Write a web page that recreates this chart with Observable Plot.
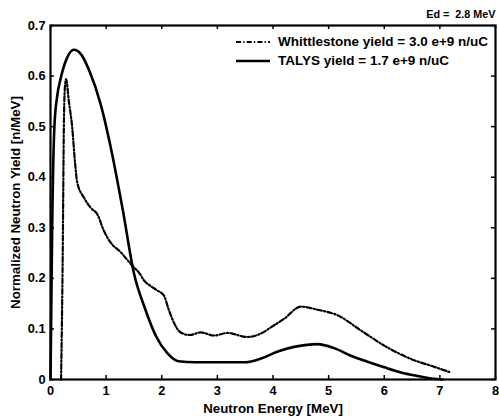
<!DOCTYPE html>
<html>
<head>
<meta charset="utf-8">
<script src="https://cdn.jsdelivr.net/npm/d3@7"></script>
<script src="https://cdn.jsdelivr.net/npm/@observablehq/plot@0.6"></script>
<style>
  html, body { margin: 0; padding: 0; background: #fff; }
  #wrap { position: relative; width: 499px; height: 419px; font-family: "Liberation Sans", Arial, sans-serif; font-weight: bold; }
  #legend { position: absolute; left: 236px; top: 32px; font-size: 13.5px; font-weight: bold; line-height: 19px; color: #000; }
  #legend .row { display: flex; align-items: center; white-space: pre; height: 19px; }
  #legend svg { margin-right: 8px; }
</style>
</head>
<body>
<div id="wrap"></div>
<script>
// TALYS spectrum
const talysE = [0, 0.03, 0.07, 0.12, 0.18, 0.29, 0.42, 0.55, 0.7, 0.9, 1.1, 1.3, 1.5, 1.7, 1.9, 2.1, 2.3, 2.6, 3.0, 3.5, 3.8, 4.1, 4.4, 4.8, 5.1, 5.4, 5.7, 6.0, 6.3, 6.6, 6.85, 7.05];
const talysY = [0, 0.3, 0.5, 0.56, 0.594, 0.634, 0.652, 0.643, 0.61, 0.545, 0.45, 0.335, 0.21, 0.14, 0.085, 0.052, 0.036, 0.034, 0.034, 0.034, 0.042, 0.056, 0.065, 0.07, 0.062, 0.047, 0.035, 0.024, 0.014, 0.007, 0.002, 0];
// Whittlestone spectrum
const whitE = [0.19, 0.22, 0.24, 0.26, 0.28, 0.33, 0.39, 0.44, 0.48, 0.6, 0.72, 0.84, 0.96, 1.08, 1.26, 1.47, 1.6, 1.68, 1.8, 1.92, 2.04, 2.12, 2.2, 2.34, 2.5, 2.7, 2.94, 3.18, 3.54, 3.8, 3.96, 4.2, 4.5, 4.8, 5.16, 5.58, 6.0, 6.47, 6.9, 7.19];
const whitY = [0, 0.25, 0.5, 0.58, 0.594, 0.55, 0.499, 0.43, 0.39, 0.36, 0.34, 0.327, 0.294, 0.271, 0.252, 0.225, 0.21, 0.196, 0.185, 0.176, 0.166, 0.14, 0.117, 0.093, 0.088, 0.093, 0.087, 0.092, 0.084, 0.092, 0.103, 0.12, 0.144, 0.138, 0.127, 0.097, 0.067, 0.041, 0.025, 0.014];

const xTicks = [0, 1, 2, 3, 4, 5, 6, 7, 8];
const yTicks = [0, 0.1, 0.2, 0.3, 0.4, 0.5, 0.6, 0.7];
const seriesNames = ["Whittlestone yield = 3.0 e+9 n/uC", "TALYS yield = 1.7 e+9 n/uC"];
const titleText = "Ed =\u00a0 2.8 MeV";
const xLabel = "Neutron Energy [MeV]";
const yLabel = "Normalized Neutron Yield [n/MeV]";

const talys = talysE.map((e, i) => ({e, y: talysY[i]}));
const whit = whitE.map((e, i) => ({e, y: whitY[i]}));
const dashPattern = "5,2.2,1.3,2.2";

const W = 499, H = 419, mL = 50, mR = 4, mT = 25, mB = 40;
const plotW = W - mL - mR, plotH = H - mT - mB, tk = 4;

const chart = Plot.plot({
  width: W,
  height: H,
  marginLeft: mL,
  marginRight: mR,
  marginTop: mT,
  marginBottom: mB,
  style: {fontFamily: "Liberation Sans, Arial, sans-serif", fontWeight: "bold", fontSize: "12.8px", background: "#fff", color: "#000", overflow: "visible"},
  x: {domain: [0, 8], ticks: xTicks, tickSize: 0, tickPadding: 6, tickFormat: d => String(d), label: null},
  y: {domain: [0, 0.7], ticks: yTicks, tickSize: 0, tickPadding: 5, tickFormat: d => String(d), label: null},
  marks: [
    Plot.line(whit, {x: "e", y: "y", curve: "monotone-x", stroke: "#000", strokeWidth: 2.2, strokeDasharray: dashPattern}),
    Plot.line(talys, {x: "e", y: "y", curve: "monotone-x", stroke: "#000", strokeWidth: 2.6}),
    Plot.tickX(xTicks, {x: d => d, insetTop: plotH - tk, stroke: "#000", strokeWidth: 1.5}),
    Plot.tickX(xTicks, {x: d => d, insetBottom: plotH - tk, stroke: "#000", strokeWidth: 1.5}),
    Plot.tickY(yTicks, {y: d => d, insetRight: plotW - tk, stroke: "#000", strokeWidth: 1.5}),
    Plot.tickY(yTicks, {y: d => d, insetLeft: plotW - tk, stroke: "#000", strokeWidth: 1.5}),
    Plot.frame({stroke: "#000", strokeWidth: 2.2}),
    Plot.text([xLabel], {frameAnchor: "bottom", dy: 29, lineAnchor: "middle", fontSize: 13.3, fill: "#000"}),
    Plot.text([yLabel], {frameAnchor: "left", dx: -35, rotate: -90, textAnchor: "middle", lineAnchor: "middle", fontSize: 13.3, fill: "#000"}),
    Plot.text([titleText], {frameAnchor: "top-right", dy: -11, dx: 0, textAnchor: "end", lineAnchor: "middle", fontSize: 10.8, fill: "#000"})
  ]
});
const wrap = document.getElementById("wrap");
wrap.appendChild(chart);

const legend = document.createElement("div");
legend.id = "legend";
const styles = [{dash: dashPattern, w: 2.2}, {dash: null, w: 2.6}];
seriesNames.forEach((name, i) => {
  const row = document.createElement("div");
  row.className = "row";
  const s = styles[i];
  row.innerHTML = `<svg width="34" height="10"><line x1="0" x2="34" y1="5" y2="5" stroke="#000" stroke-width="${s.w}" ${s.dash ? `stroke-dasharray="${s.dash}"` : ""}/></svg><span>${name}</span>`;
  legend.appendChild(row);
});
wrap.appendChild(legend);
</script>
</body>
</html>
